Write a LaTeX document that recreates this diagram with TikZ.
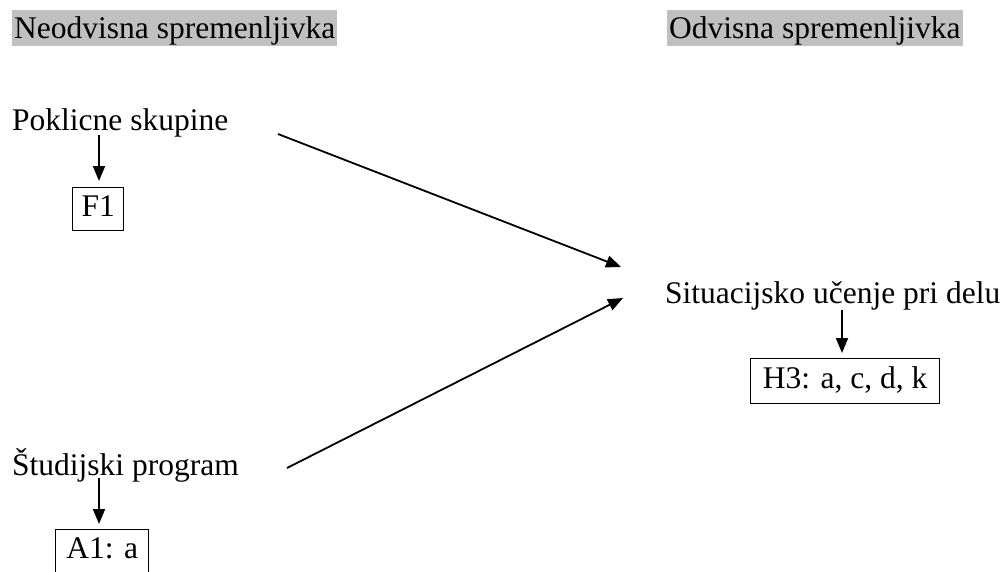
\documentclass[tikz,border=0pt]{standalone}
\usepackage{fontspec}
\setmainfont{Liberation Serif}
\usetikzlibrary{arrows.meta}
\begin{document}
\begin{tikzpicture}[x=1pt,y=-1pt,
  txt/.style={inner sep=0pt,anchor=base west,font=\fontsize{31.5}{36}\selectfont},
  hl/.style={txt,fill=hlgray,inner xsep=2pt,inner ysep=2pt,text height=26pt,text depth=6pt},
  codebox/.style={draw=black,line width=1.4pt,inner xsep=0pt,inner ysep=7pt,text height=22pt,text depth=7pt,anchor=north west,font=\fontsize{31.5}{36}\selectfont},
  arr/.style={line width=1.8pt,-{Triangle[length=15pt,width=12pt]}}]
\definecolor{hlgray}{RGB}{192,192,192}
\useasboundingbox (0,0) rectangle (1006,571);
\clip (0,0) rectangle (1006,571);
\fill[white] (0,0) rectangle (1006,571);
% headers
\node[hl] (nh) at (12,38) {Neodvisna spremenljivka};
\node[hl] (oh) at (667,38) {Odvisna spremenljivka};
% variables
\node[txt] (pk) at (12,130) {Poklicne skupine};
\node[txt] (sp) at (12,475) {Študijski program};
\node[txt] (su) at (665,303) {Situacijsko učenje pri delu};
% code boxes
\node[codebox,minimum width=51pt] (f1) at (72,187) {F1};
\node[codebox,minimum width=93pt] (a1) at (55,529) {A1: a};
\node[codebox,minimum width=189pt,minimum height=45pt] (h3) at (750,358) {H3: a, c, d, k};
% down arrows
\coordinate (pkd) at (99,135);
\coordinate (f1t) at (99,181);
\draw[arr] (pkd) -- (f1t);
\coordinate (spd) at (99,478);
\coordinate (a1t) at (99,524);
\draw[arr] (spd) -- (a1t);
\coordinate (sud) at (842,310);
\coordinate (h3t) at (842,353);
\draw[arr] (sud) -- (h3t);
% main arrows
\coordinate (s1) at (278,134);
\coordinate (t1) at (621,267);
\coordinate (s2) at (287,468);
\coordinate (t2) at (623,298);
\draw[arr] (s1) -- (t1);
\draw[arr] (s2) -- (t2);
\end{tikzpicture}
\end{document}
